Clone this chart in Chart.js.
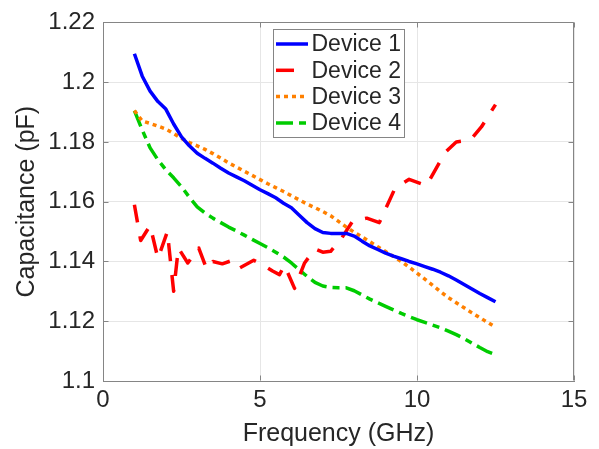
<!DOCTYPE html>
<html>
<head>
<meta charset="utf-8">
<script src="https://cdn.jsdelivr.net/npm/chart.js@4.4.1/dist/chart.umd.min.js"></script>
<style>
  html, body { margin: 0; padding: 0; background: #fff; }
  #wrap { width: 599px; height: 449px; }
</style>
</head>
<body>
<div id="wrap"><canvas id="capChart" width="599" height="449"></canvas></div>
<script>
// Frequency points (GHz) shared by devices 1, 3 and 4
const freq = [1.0, 1.25, 1.5, 1.75, 2.0, 2.25, 2.5, 2.75, 3.0, 3.25, 3.5, 3.75, 4.0, 4.25, 4.5, 4.75,
  5.0, 5.25, 5.5, 5.75, 6.0, 6.25, 6.5, 6.75, 7.0, 7.25, 7.5, 7.75, 8.0, 8.25, 8.5, 8.75,
  9.0, 9.25, 9.5, 9.75, 10.0, 10.25, 10.5, 10.75, 11.0, 11.25, 11.5, 11.75, 12.0, 12.25, 12.5];

const device1 = [1.2095, 1.2020, 1.1970, 1.1935, 1.1910, 1.1860, 1.1817, 1.1787, 1.1762, 1.1745, 1.1729, 1.1712, 1.1696, 1.1683, 1.1670, 1.1655,
  1.1640, 1.1627, 1.1613, 1.1595, 1.1580, 1.1555, 1.1530, 1.1510, 1.1497, 1.1494, 1.1494, 1.1494, 1.1485, 1.1468, 1.1452, 1.1440,
  1.1428, 1.1418, 1.1409, 1.1400, 1.1392, 1.1383, 1.1374, 1.1364, 1.1352, 1.1338, 1.1323, 1.1308, 1.1293, 1.1279, 1.1265];

const device3 = [1.1905, 1.1870, 1.1862, 1.1853, 1.1843, 1.1828, 1.1812, 1.1798, 1.1787, 1.1775, 1.1761, 1.1746, 1.1730, 1.1716, 1.1702, 1.1688,
  1.1674, 1.1660, 1.1647, 1.1634, 1.1620, 1.1606, 1.1592, 1.1580, 1.1567, 1.1553, 1.1534, 1.1515, 1.1498, 1.1482, 1.1466, 1.1449,
  1.1433, 1.1417, 1.1400, 1.1381, 1.1361, 1.1341, 1.1320, 1.1299, 1.1279, 1.1262, 1.1245, 1.1228, 1.1212, 1.1196, 1.1180];

const device4 = [1.1905, 1.1840, 1.1780, 1.1740, 1.1707, 1.1680, 1.1650, 1.1615, 1.1583, 1.1562, 1.1545, 1.1530, 1.1515, 1.1502, 1.1488, 1.1474,
  1.1460, 1.1446, 1.1431, 1.1415, 1.1395, 1.1372, 1.1350, 1.1330, 1.1318, 1.1313, 1.1312, 1.1312, 1.1302, 1.1288, 1.1274, 1.1262,
  1.1250, 1.1238, 1.1226, 1.1215, 1.1205, 1.1196, 1.1187, 1.1178, 1.1167, 1.1155, 1.1142, 1.1127, 1.1112, 1.1098, 1.1088];

// Device 2 is noisy, read at its own frequency points
const freqDev2 = [1.0, 1.2, 1.5, 1.75, 2.05, 2.25, 2.4, 2.7, 3.05, 3.3, 3.5, 3.8, 4.13, 4.35, 4.8, 5.1,
  5.4, 5.62, 5.78, 6.1, 6.42, 6.75, 7.0, 7.25, 7.6, 7.95, 8.4, 8.8, 9.3, 9.75, 10.3, 10.9,
  11.25, 11.7, 12.05, 12.5];
const device2 = [1.1590, 1.1470, 1.1520, 1.1410, 1.1500, 1.1300, 1.1445, 1.1395, 1.1445, 1.1375, 1.1400, 1.1392, 1.1404, 1.1378, 1.1404, 1.1388,
  1.1368, 1.1356, 1.1387, 1.1310, 1.1395, 1.1442, 1.1431, 1.1434, 1.1478, 1.1535, 1.1545, 1.1530, 1.1645, 1.1675, 1.1654, 1.1765,
  1.1800, 1.1806, 1.1850, 1.1925];

const xTicks = [0, 5, 10, 15];
const yTicks = [1.1, 1.12, 1.14, 1.16, 1.18, 1.2, 1.22];

const axisColor = '#858585';
const textColor = '#262626';
const fontName = '"Liberation Sans", Arial, sans-serif';

function pairs(xs, ys) {
  return xs.map((x, i) => ({ x: x, y: ys[i] }));
}

// MATLAB style inward tick marks on all four sides + top/right box edges
const boxTicks = {
  id: 'boxTicks',
  afterDatasetsDraw(chart) {
    const ctx = chart.ctx;
    const a = chart.chartArea;
    const xs = chart.scales.x, ys = chart.scales.y;
    ctx.save();
    ctx.strokeStyle = axisColor;
    ctx.lineWidth = 1;
    ctx.beginPath();
    const L = Math.round(a.left) + 0.5, R = Math.round(a.right) - 0.5;
    const T = Math.round(a.top) + 0.5, B = Math.round(a.bottom) - 0.5;
    ctx.moveTo(L, T); ctx.lineTo(R, T); ctx.lineTo(R, B);
    xTicks.forEach(v => {
      const px = Math.round(xs.getPixelForValue(v)) + 0.5;
      ctx.moveTo(px, B); ctx.lineTo(px, B - 5);
      ctx.moveTo(px, T); ctx.lineTo(px, T + 5);
    });
    yTicks.forEach(v => {
      const py = Math.round(ys.getPixelForValue(v)) + 0.5;
      ctx.moveTo(L, py); ctx.lineTo(L + 5, py);
      ctx.moveTo(R, py); ctx.lineTo(R - 5, py);
    });
    ctx.stroke();
    ctx.restore();
  }
};

// Legend drawn inside the plot area, like the original figure
const insideLegend = {
  id: 'insideLegend',
  afterDraw(chart) {
    const ctx = chart.ctx;
    const a = chart.chartArea;
    const x0 = Math.round(a.left) + 170, y0 = Math.round(a.top) + 7;
    const w = 131, h = 108;
    ctx.save();
    ctx.fillStyle = '#fff';
    ctx.fillRect(x0, y0, w, h);
    ctx.strokeStyle = axisColor;
    ctx.lineWidth = 1;
    ctx.strokeRect(x0 + 0.5, y0 + 0.5, w, h);
    chart.data.datasets.forEach((ds, i) => {
      const y = y0 + 15 + i * 26.3;
      ctx.strokeStyle = ds.borderColor;
      ctx.lineWidth = ds.borderWidth;
      ctx.lineCap = 'butt';
      ctx.setLineDash(ds.borderDash || []);
      ctx.beginPath();
      ctx.moveTo(x0 + 3, y);
      ctx.lineTo(x0 + 35, y);
      ctx.stroke();
      ctx.setLineDash([]);
      ctx.fillStyle = textColor;
      ctx.font = '23px ' + fontName;
      ctx.textBaseline = 'middle';
      ctx.textAlign = 'left';
      ctx.fillText(ds.label, x0 + 38.5, y + 1);
    });
    ctx.restore();
  }
};

const ctx = document.getElementById('capChart').getContext('2d');

new Chart(ctx, {
  type: 'line',
  data: {
    datasets: [
      { label: 'Device 1', data: pairs(freq, device1), borderColor: 'rgb(0,0,255)', borderWidth: 3.5, borderDash: [] },
      { label: 'Device 2', data: pairs(freqDev2, device2), borderColor: 'rgb(255,0,0)', borderWidth: 3.5, borderDash: [18, 14] },
      { label: 'Device 3', data: pairs(freq, device3), borderColor: 'rgb(255,128,0)', borderWidth: 3.5, borderDash: [4, 4] },
      { label: 'Device 4', data: pairs(freq, device4), borderColor: 'rgb(0,204,0)', borderWidth: 3.5, borderDash: [17, 6, 7, 6] }
    ]
  },
  options: {
    responsive: false,
    animation: false,
    devicePixelRatio: 1,
    layout: { padding: { left: 0, right: 25, top: 17, bottom: 0 } },
    elements: {
      point: { radius: 0 },
      line: { tension: 0, fill: false, borderJoinStyle: 'round', borderCapStyle: 'butt' }
    },
    plugins: {
      legend: { display: false },
      tooltip: { enabled: false }
    },
    scales: {
      x: {
        type: 'linear',
        min: 0,
        max: 15,
        afterFit: function (scale) { scale.height = 68; },
        afterBuildTicks: function (scale) { scale.ticks = xTicks.map(v => ({ value: v })); },
        ticks: {
          color: textColor,
          font: { family: fontName, size: 24 },
          padding: 5,
          maxRotation: 0,
          callback: function (value) { return String(value); }
        },
        grid: { color: '#e6e6e6', drawTicks: false },
        border: { color: axisColor },
        title: {
          display: true,
          text: 'Frequency (GHz)',
          color: textColor,
          font: { family: fontName, size: 25 },
          padding: { top: 0, bottom: 0 }
        }
      },
      y: {
        type: 'linear',
        min: 1.1,
        max: 1.22,
        afterFit: function (scale) { scale.width = 103; },
        afterBuildTicks: function (scale) { scale.ticks = yTicks.map(v => ({ value: v })); },
        ticks: {
          color: textColor,
          font: { family: fontName, size: 24 },
          padding: 8,
          callback: function (value) { return String(Number(value.toFixed(2))); }
        },
        grid: { color: '#e6e6e6', drawTicks: false },
        border: { color: axisColor },
        title: {
          display: true,
          text: 'Capacitance (pF)',
          color: textColor,
          font: { family: fontName, size: 25 },
          padding: { top: 12, bottom: 0 }
        }
      }
    }
  },
  plugins: [boxTicks, insideLegend]
});
</script>
</body>
</html>
